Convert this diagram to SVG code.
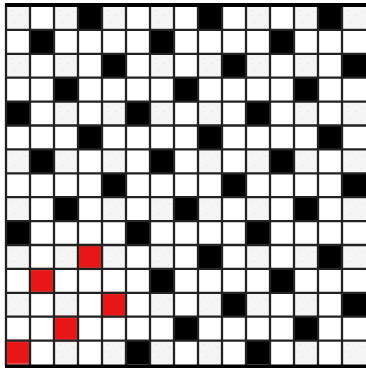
<svg xmlns="http://www.w3.org/2000/svg" width="366" height="371" viewBox="0 0 366 371">
<style>
.b{fill:#000}
.r{fill:#e81212;filter:url(#soft)}
.g{fill:none;stroke:#222;stroke-width:2.3}
.edge{fill:#000}
</style>
<defs>
<pattern id="st" patternUnits="userSpaceOnUse" x="6" y="6" width="48" height="47.8">
<rect x="0" y="0" width="24" height="23.9" fill="#f5f5f5"/>
<rect x="5" y="4" width="1" height="1" fill="#dcdcdc"/>
<rect x="13" y="9" width="1" height="1" fill="#e0e0e0"/>
<rect x="8" y="16" width="1" height="1" fill="#dcdcdc"/>
<rect x="18" y="19" width="1" height="1" fill="#e0e0e0"/>
<rect x="19" y="6" width="1" height="1" fill="#dcdcdc"/>
</pattern>
<filter id="soft" x="-20%" y="-20%" width="140%" height="140%">
<feGaussianBlur stdDeviation="0.8"/>
</filter>
</defs>
<rect width="366" height="371" fill="#fff"/>
<rect x="6" y="6" width="360" height="358.5" fill="url(#st)"/>
<g id="black">
<rect class="b" x="78" y="6" width="24" height="23.9"/><rect class="b" x="198" y="6" width="24" height="23.9"/><rect class="b" x="318" y="6" width="24" height="23.9"/>
<rect class="b" x="30" y="29.9" width="24" height="23.9"/><rect class="b" x="150" y="29.9" width="24" height="23.9"/><rect class="b" x="270" y="29.9" width="24" height="23.9"/>
<rect class="b" x="102" y="53.8" width="24" height="23.9"/><rect class="b" x="222" y="53.8" width="24" height="23.9"/><rect class="b" x="342" y="53.8" width="24" height="23.9"/>
<rect class="b" x="54" y="77.7" width="24" height="23.9"/><rect class="b" x="174" y="77.7" width="24" height="23.9"/><rect class="b" x="294" y="77.7" width="24" height="23.9"/>
<rect class="b" x="6" y="101.6" width="24" height="23.9"/><rect class="b" x="126" y="101.6" width="24" height="23.9"/><rect class="b" x="246" y="101.6" width="24" height="23.9"/>
<rect class="b" x="78" y="125.5" width="24" height="23.9"/><rect class="b" x="198" y="125.5" width="24" height="23.9"/><rect class="b" x="318" y="125.5" width="24" height="23.9"/>
<rect class="b" x="30" y="149.4" width="24" height="23.9"/><rect class="b" x="150" y="149.4" width="24" height="23.9"/><rect class="b" x="270" y="149.4" width="24" height="23.9"/>
<rect class="b" x="102" y="173.3" width="24" height="23.9"/><rect class="b" x="222" y="173.3" width="24" height="23.9"/><rect class="b" x="342" y="173.3" width="24" height="23.9"/>
<rect class="b" x="54" y="197.2" width="24" height="23.9"/><rect class="b" x="174" y="197.2" width="24" height="23.9"/><rect class="b" x="294" y="197.2" width="24" height="23.9"/>
<rect class="b" x="6" y="221.1" width="24" height="23.9"/><rect class="b" x="126" y="221.1" width="24" height="23.9"/><rect class="b" x="246" y="221.1" width="24" height="23.9"/>
<rect class="b" x="198" y="245" width="24" height="23.9"/><rect class="b" x="318" y="245" width="24" height="23.9"/>
<rect class="b" x="150" y="268.9" width="24" height="23.9"/><rect class="b" x="270" y="268.9" width="24" height="23.9"/>
<rect class="b" x="222" y="292.8" width="24" height="23.9"/><rect class="b" x="342" y="292.8" width="24" height="23.9"/>
<rect class="b" x="174" y="316.7" width="24" height="23.9"/><rect class="b" x="294" y="316.7" width="24" height="23.9"/>
<rect class="b" x="126" y="340.6" width="24" height="23.9"/><rect class="b" x="246" y="340.6" width="24" height="23.9"/>
</g>
<g id="red">
<rect class="r" x="78" y="245" width="24" height="23.9"/>
<rect class="r" x="30" y="268.9" width="24" height="23.9"/>
<rect class="r" x="102" y="292.8" width="24" height="23.9"/>
<rect class="r" x="54" y="316.7" width="24" height="23.9"/>
<rect class="r" x="6" y="340.6" width="24" height="23.9"/>
</g>
<g id="grid">
<path class="g" d="M6 4V366M30 4V366M54 4V366M78 4V366M102 4V366M126 4V366M150 4V366M174 4V366M198 4V366M222 4V366M246 4V366M270 4V366M294 4V366M318 4V366M342 4V366"/>
<path class="g" d="M5 29.9H366M5 53.8H366M5 77.7H366M5 101.6H366M5 125.5H366M5 149.4H366M5 173.3H366M5 197.2H366M5 221.1H366M5 245H366M5 268.9H366M5 292.8H366M5 316.7H366M5 340.6H366"/>
<rect class="edge" x="5" y="3" width="361" height="4"/>
<rect class="edge" x="5" y="364.5" width="361" height="3.5"/>
</g>
</svg>
